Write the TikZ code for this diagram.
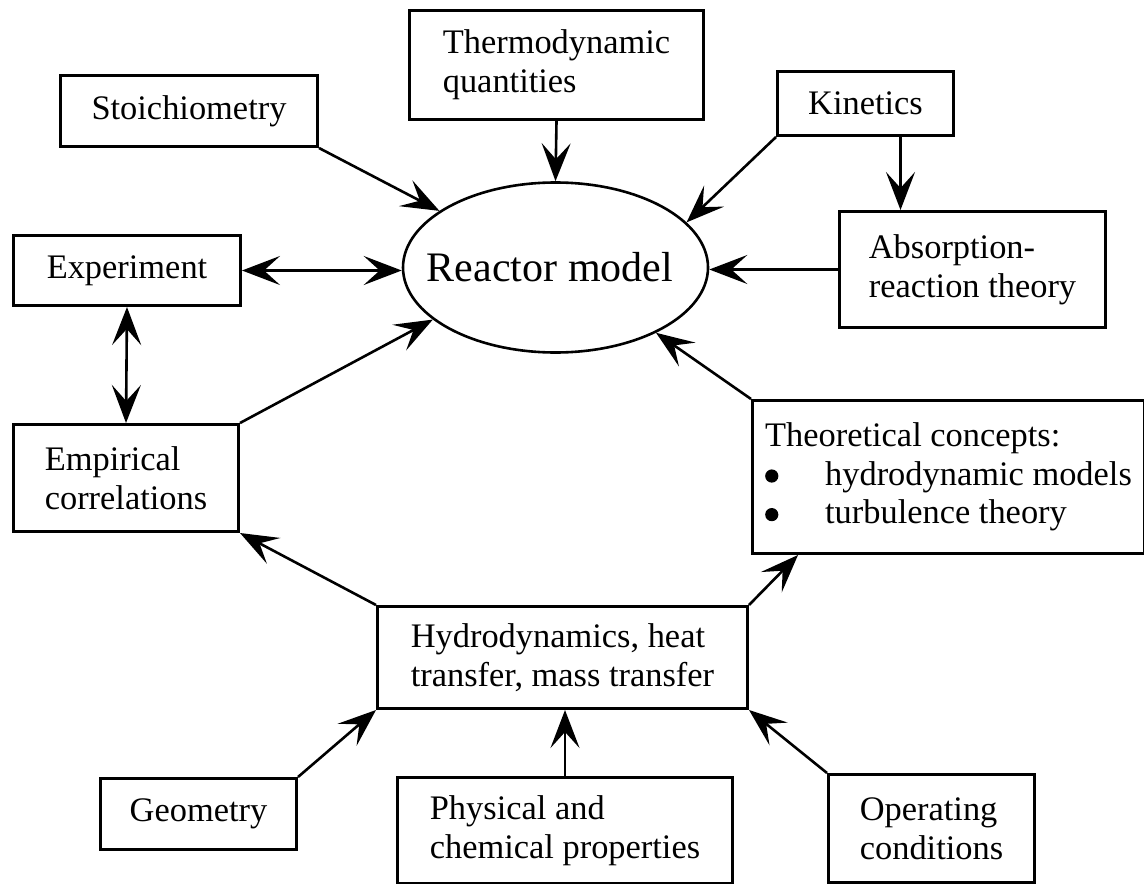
\documentclass[tikz,border=0pt]{standalone}
\usepackage{fontspec}
\usepackage{graphicx}
\setmainfont{Liberation Serif}
\usetikzlibrary{arrows.meta,shapes.geometric}
\newcommand{\bigdot}{\makebox[30pt][l]{\tikz[baseline=0pt]\fill (3.2pt,4.6pt) circle[radius=3.3pt];}}
\begin{document}
\begin{tikzpicture}[x=0.5pt,y=-0.5pt,
  box/.style={draw, line width=1.5pt, rectangle, anchor=north west, align=left, inner sep=0pt,
    font=\fontsize{17.2pt}{19.3pt}\selectfont},
  arr/.style={line width=1.3pt, -{Stealth[length=19pt,width=14.5pt,inset=8pt]}},
  darr/.style={line width=1.3pt, {Stealth[length=19pt,width=14.5pt,inset=8pt]}-{Stealth[length=19pt,width=14.5pt,inset=8pt]}}]
\useasboundingbox (0,0) rectangle (1144,883);

\node[box, minimum width=128.5pt, minimum height=35.5pt] (sto) at (59,74) {Stoichiometry};
\node[box, minimum width=147pt, minimum height=54.5pt] (thd) at (408,9) {Thermodynamic\\quantities};
\node[box, minimum width=88pt, minimum height=32pt] (kin) at (776,70) {Kinetics};
\node[box, minimum width=133pt, minimum height=58pt] (abs) at (838,210) {Absorption-\\reaction theory};
\node[box, minimum width=113.5pt, minimum height=35pt] (exp) at (12,234) {Experiment};
\node[box, minimum width=112.5pt, minimum height=53.5pt] (emp) at (12,423) {Empirical\\correlations};
\node[box, minimum width=196pt, minimum height=76.5pt] (the) at (751,399)
  {Theoretical concepts:\\\bigdot hydrodynamic models\\\bigdot turbulence theory};
\node[box, minimum width=185pt, minimum height=51pt] (hyd) at (376,605) {Hydrodynamics, heat\\transfer, mass transfer};
\node[box, minimum width=98pt, minimum height=35.5pt] (geo) at (99,777) {Geometry};
\node[box, minimum width=167.5pt, minimum height=53pt] (phy) at (396,776) {Physical and\\chemical properties};
\node[box, minimum width=103pt, minimum height=54pt] (ope) at (827,773) {Operating\\conditions};
\node[draw, ellipse, line width=1.3pt, minimum width=152.5pt, minimum height=85pt, inner sep=0pt,
  font=\fontsize{21pt}{24pt}\selectfont] (rm) at (555.5,267.5) {\makebox[0pt]{\hspace{-5.5pt}Reactor model}};

\draw[arr] (sto.south east) -- (rm.154.7);
\draw[arr] (thd.south) -- (rm.north);
\draw[arr] (kin.south west) -- (rm.19.4);
\draw[arr] ([xshift=17.5pt]kin.south) -- ([xshift=17.5pt]kin.south |- abs.north);
\draw[arr] (abs.west) -- (abs.west -| rm.east);
\draw[darr] (exp.east) -- (exp.east -| rm.west);
\draw[darr] (exp.south) -- (emp.north);
\draw[arr] (emp.north east) -- (rm.203.6);
\draw[arr] (the.north west) -- (rm.327.3);
\draw[arr] (hyd.north west) -- (emp.south east);
\draw[arr] (hyd.north east) -- ([xshift=23.5pt]the.south west);
\draw[arr] (geo.north east) -- (hyd.south west);
\draw[arr] (phy.north) -- (phy.north |- hyd.south);
\draw[arr] (ope.north west) -- (hyd.south east);
\end{tikzpicture}
\end{document}
